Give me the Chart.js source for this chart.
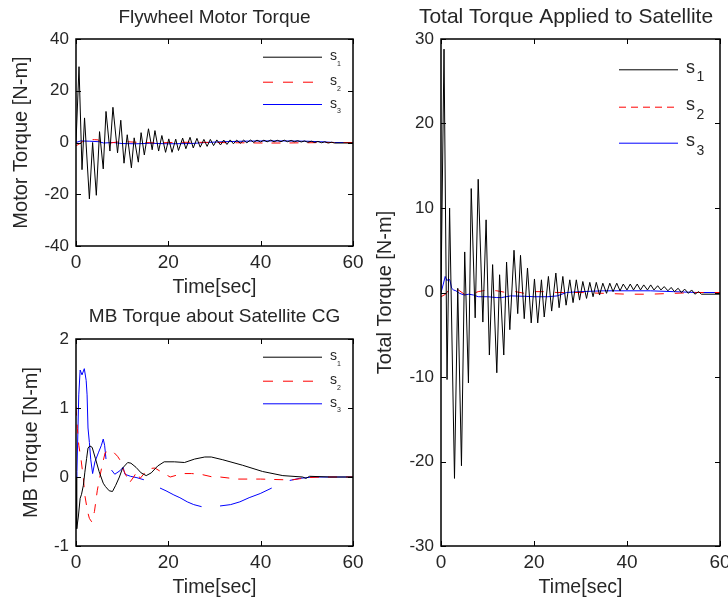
<!DOCTYPE html>
<html><head><meta charset="utf-8">
<script src="https://cdn.jsdelivr.net/npm/chart.js@4.4.1/dist/chart.umd.min.js"></script>
<style>
html,body{margin:0;padding:0;background:#fff;overflow:hidden;}
#wrap{position:relative;width:728px;height:600px;overflow:hidden;background:#fff;}
canvas{position:absolute;}
</style></head><body>
<div id="wrap">
<canvas id="c1" width="380" height="300" style="left:0;top:0"></canvas>
<canvas id="c2" width="380" height="300" style="left:0;top:300px"></canvas>
<canvas id="c3" width="400" height="600" style="left:364px;top:0"></canvas>
</div>
<script>
// ---------- DATA ----------
const seriesLabels = ['s1', 's2', 's3'];
const xTicks = [0, 20, 40, 60];

// black (s1) time grid shared by motor & total torque
const s1Time = [0,0.65,1.3,1.85,2.9,3.6,4.4,5.1,5.9,6.5,7.35,8.0,9.0,9.7,10.4,11.1,12.0,12.6,13.5,14.1,
  14.8,15.7,16.5,17.1,17.9,18.6,19.4,20.1,20.8,21.6,22.2,23.1,23.8,24.7,25.4,26.2,26.9,27.7,28.4,29.1,
  29.8,30.5,31.3,32.0,32.7,33.4,34.1,34.8,35.6,36.3,37.0,37.8,38.5,39.2,40.0,40.7,41.4,42.2,42.9,43.6,
  44.4,45.1,45.8,46.6,47.3,48.0,48.8,49.5,50.2,51.0,51.7,52.4,53.2,53.9,54.6,55.4,56.0,60];

// Flywheel Motor Torque
const motorS1 = [0,29.3,-10.5,9.5,-21.8,0.0,-20.4,4.2,-10.2,12.0,
  -3.3,13.6,-4.0,8.6,-8.0,3.0,-9.8,1.8,-7.6,3.8,
  -4.8,5.3,-2.8,4.6,-3.3,2.7,-3.8,1.4,-3.8,1.3,
  -3.1,1.7,-2.4,2.0,-2.1,1.6,-1.8,1.2,-1.5,1.2,
  -1.2,1.0,-0.95,0.95,-0.75,1.0,-0.5,0.9,-0.3,0.9,
  -0.1,0.95,0.05,0.9,0.2,0.9,0.25,0.95,0.25,0.85,
  0.3,0.9,0.3,0.8,0.3,0.7,0.2,0.6,0.1,0.5,
  0.0,0.4,-0.1,0.3,-0.2,0.1,-0.2,-0.2];
const motorS2Time = [0,0.5,1.5,2.5,3.0,4.0,4.8,5.5,7,9,11,13,15,18,20,25,30,35,40,45,50,55,60];
const motorS2 = [-1.2,-0.8,0.4,0.9,1.1,1.1,1.0,0.0,-0.3,0.2,0.3,0.1,0.0,-0.2,0.0,0.1,0.0,-0.1,-0.2,-0.2,-0.1,0.0,0.0];
const motorS3Time = [0,1,3,5,6,8,10,13,16,20,25,28,32,36,40,45,50,53,56,60];
const motorS3 = [0,0.6,0.5,0.3,-0.2,0.0,-0.4,-0.5,-0.3,-0.5,-0.4,0.0,0.3,0.5,0.6,0.6,0.5,0.3,0.0,0.0];

// MB Torque about Satellite CG
const mbS1Time = [0,0.15,0.5,0.9,1.2,1.6,1.9,2.3,2.6,3.0,3.5,4.2,5.0,5.9,6.4,7.2,7.9,8.6,9.4,10.1,
  11.2,11.9,13.0,14.1,15.2,16.3,17.7,19.1,21.3,23.5,25.7,27.9,29.3,31.8,36.1,40.4,44.8,49.1,49.8,50.6,55,60];
const mbS1 = [0,-0.75,-0.58,-0.31,-0.25,-0.12,0.06,0.27,0.42,0.45,0.43,0.27,0.08,-0.09,-0.14,-0.2,-0.21,-0.12,0.0,0.13,
  0.21,0.2,0.14,0.06,0.02,0.06,0.16,0.22,0.22,0.21,0.26,0.29,0.29,0.25,0.17,0.08,0.02,0.0,-0.02,0.01,0,0];
const mbS2Time = [0,0.3,0.6,1.1,1.6,1.9,2.5,2.9,3.4,4.0,4.6,5.1,5.6,6.3,7.3,8.0,9.0,9.5,10.3,11.0,
  11.5,12.5,13.2,13.9,15.6,17.1,18.8,20.4,22,23.5,25,27,29.6,31.2,35,40,45,47,50,53,60];
const mbS2 = [1.02,0.7,0.46,0.25,-0.02,-0.26,-0.5,-0.6,-0.65,-0.5,-0.2,-0.02,0.15,0.35,0.39,0.37,0.3,0.25,0.1,0.0,
  -0.09,0.0,0.08,-0.02,0.12,0.13,0.06,0.0,0.03,0.05,0.05,0.04,0.0,0.0,-0.03,-0.03,-0.04,-0.04,-0.01,0,0];
const mbS3Time = [0,0.2,0.6,0.9,1.3,1.8,2.2,2.4,2.6,2.9,3.2,3.6,4.1,4.9,5.5,5.9,6.2,6.5,7.0,7.7,
  8.4,9.5,10.2,10.6,11.8,13.2,14.7,16.5,18.2,19.5,21.2,22.5,24.1,25.5,27.2,29,31.2,33.5,35.5,37.5,
  39.9,42.4,44,46.3,48.4,51.3,55,60];
const mbS3 = [0,0.08,1.19,1.55,1.48,1.57,1.4,1.19,0.71,0.5,0.25,0.05,0.22,0.36,0.46,0.55,0.46,0.26,null,0.1,
  0.04,0.09,0.14,0.04,0.01,-0.01,-0.04,null,-0.16,-0.2,-0.26,-0.3,-0.36,-0.4,-0.43,null,-0.42,-0.4,-0.36,-0.3,
  -0.24,-0.16,null,-0.05,-0.02,0.0,0.0,0.0];

// Total Torque Applied to Satellite
const totalS1 = [0,28.8,-10.3,10.0,-22.0,0.5,-20.5,4.8,-10.7,12.3,
  -3.0,13.4,-3.5,8.6,-7.4,3.3,-9.5,2.1,-7.4,3.6,
  -4.4,5.0,-2.5,4.4,-3.1,2.9,-3.6,1.6,-3.6,1.5,
  -2.9,1.9,-2.2,2.3,-1.8,1.9,-1.5,1.5,-1.2,1.5,
  -0.9,1.3,-0.7,1.2,-0.5,1.2,-0.3,1.1,-0.1,1.1,
  0.1,1.1,0.2,1.0,0.3,1.0,0.3,1.0,0.3,0.9,
  0.3,0.9,0.3,0.8,0.3,0.7,0.2,0.6,0.1,0.5,
  0.0,0.4,-0.1,0.3,-0.2,0.1,-0.2,-0.2];
const totalS2Time = [0,1,1.5,2.5,3.5,5,6,8,10,12,14,16,18,20,22,25,30,35,40,45,50,55,60];
const totalS2 = [-0.5,-0.2,0.2,0.5,0.4,-0.2,-0.3,0.1,0.3,0.2,0.0,0.1,-0.1,0.1,0.1,0.0,0.0,-0.1,-0.2,-0.2,-0.1,0.0,0.0];
const totalS3Time = [0,0.5,0.9,1.3,1.6,1.9,2.3,2.7,3.2,4,5,6,7,8,10,12,13,15,18,20,23,25,27,30,35,40,45,50,55,60];
const totalS3 = [0,1.0,1.9,1.4,1.6,1.5,0.5,0.3,0.2,-0.1,-0.3,-0.2,-0.3,-0.5,-0.5,-0.6,-0.6,-0.4,-0.45,-0.5,-0.5,-0.4,0.0,0.1,0.2,0.2,0.2,0.1,0.0,0.0];

// ---------- RENDER ----------
const FONT = '"Liberation Sans", Arial, Helvetica, sans-serif';
const TXT = '#262626';
Chart.defaults.font.family = FONT;
Chart.defaults.color = TXT;

const pts = (t, v) => t.map((x, i) => ({x, y: v[i]}));

const framePlugin = {
  id: 'frame',
  afterDatasetsDraw(chart, args, o) {
    const ctx = chart.ctx, a = chart.chartArea, xs = chart.scales.x, ys = chart.scales.y;
    ctx.save();
    ctx.strokeStyle = '#000';
    ctx.lineWidth = 1;
    ctx.beginPath();
    xs.ticks.forEach(t => { const p = Math.round(xs.getPixelForValue(t.value)) + 0.5;
      ctx.moveTo(p, a.bottom); ctx.lineTo(p, a.bottom - o.tick); ctx.moveTo(p, a.top); ctx.lineTo(p, a.top + o.tick); });
    ys.ticks.forEach(t => { const p = Math.round(ys.getPixelForValue(t.value)) + 0.5;
      ctx.moveTo(a.left, p); ctx.lineTo(a.left + o.tick, p); ctx.moveTo(a.right, p); ctx.lineTo(a.right - o.tick, p); });
    ctx.stroke();
    ctx.lineWidth = 1.5;
    ctx.strokeRect(a.left, a.top, a.right - a.left, a.bottom - a.top);
    ctx.fillStyle = TXT;
    ctx.font = o.titleSize + 'px ' + FONT;
    ctx.textAlign = 'center'; ctx.textBaseline = 'alphabetic';
    const cx = o.titleCx != null ? o.titleCx : (a.left + a.right) / 2;
    ctx.fillText(o.title, cx, o.titleY);
    const L = o.legend;
    chart.data.datasets.forEach((ds, i) => {
      const y = a.top + L.rows[i];
      ctx.strokeStyle = ds.borderColor; ctx.lineWidth = 1;
      ctx.setLineDash(ds.legendDash || []);
      ctx.beginPath(); ctx.moveTo(a.right - L.x0, y + 0.5); ctx.lineTo(a.right - L.x1, y + 0.5); ctx.stroke();
      ctx.setLineDash([]);
      ctx.fillStyle = TXT; ctx.textAlign = 'left';
      ctx.font = L.size + 'px ' + FONT;
      const tx = a.right - L.tx;
      const base = ds.label.slice(0, 1), sub = ds.label.slice(1);
      ctx.fillText(base, tx, y + L.sBase);
      const w = ctx.measureText(base).width;
      ctx.font = L.subSize + 'px ' + FONT;
      ctx.fillText(sub, tx + w + L.subGap, y + L.subBase);
    });
    ctx.restore();
  }
};

function makeChart(id, cfg) {
  const colors = ['#000000', '#ff0000', '#0000ff'];
  const datasets = cfg.series.map((s, i) => ({
    label: seriesLabels[i],
    data: pts(s[0], s[1]),
    borderColor: colors[i],
    borderWidth: 1,
    borderDash: i === 1 ? cfg.dash : [],
    legendDash: i === 1 ? cfg.legend.dash : [],
    pointRadius: 0,
    tension: 0,
    fill: false,
    spanGaps: false
  }));
  return new Chart(document.getElementById(id), {
    type: 'line',
    data: {datasets},
    plugins: [framePlugin],
    options: {
      responsive: false, animation: false, devicePixelRatio: 1,
      layout: {padding: {left: 0, top: cfg.top, right: cfg.right, bottom: 0}},
      plugins: {
        legend: {display: false}, tooltip: {enabled: false},
        frame: {title: cfg.title, titleY: cfg.titleY, titleSize: cfg.titleSize || 19, titleCx: cfg.titleCx, tick: 5, legend: cfg.legend}
      },
      scales: {
        x: {
          type: 'linear', min: 0, max: 60,
          afterBuildTicks: s => { s.ticks = xTicks.map(v => ({value: v})); },
          ticks: {font: {size: 19}, color: TXT, padding: 5, maxRotation: 0, autoSkip: false},
          grid: {display: false, drawTicks: false}, border: {display: false},
          title: {display: true, text: 'Time[sec]', font: {size: 19.5}, color: TXT, padding: {top: 0, bottom: 1}},
          afterFit: s => { s.height = 54; }
        },
        y: {
          type: 'linear', min: cfg.yMin, max: cfg.yMax,
          afterBuildTicks: s => { s.ticks = cfg.yTicks.map(v => ({value: v})); },
          ticks: {font: {size: 17}, color: TXT, padding: 7},
          grid: {display: false, drawTicks: false}, border: {display: false},
          title: {display: true, text: cfg.yTitle, font: {size: 20}, color: TXT, padding: {top: cfg.yTitlePad, bottom: 0}},
          afterFit: s => { s.width = cfg.yWidth; }
        }
      }
    }
  });
}

makeChart('c1', {
  title: 'Flywheel Motor Torque', titleY: 23, top: 39, right: 27, yWidth: 76,
  yMin: -40, yMax: 40, yTicks: [-40, -20, 0, 20, 40], yTitle: 'Motor Torque [N-m]', yTitlePad: 9.5,
  dash: [9, 9],
  series: [[s1Time, motorS1], [motorS2Time, motorS2], [motorS3Time, motorS3]],
  legend: {rows: [17.7, 42.7, 65], x0: 90, x1: 31, tx: 23, size: 14, subSize: 7, sBase: 3.7, subBase: 9, subGap: 0, dash: [10, 10]}
});
makeChart('c2', {
  title: 'MB Torque about Satellite CG', titleY: 22, top: 39, right: 27, yWidth: 76,
  yMin: -1, yMax: 2, yTicks: [-1, 0, 1, 2], yTitle: 'MB Torque [N-m]', yTitlePad: 19.5,
  dash: [9, 9],
  series: [[mbS1Time, mbS1], [mbS2Time, mbS2], [mbS3Time, mbS3]],
  legend: {rows: [17.7, 41.7, 64.3], x0: 90, x1: 31, tx: 23, size: 14, subSize: 7, sBase: 3.7, subBase: 9, subGap: 0, dash: [10, 10]}
});
makeChart('c3', {
  title: 'Total Torque Applied to Satellite', titleY: 23, titleSize: 21, titleCx: 202, top: 39, right: 44, yWidth: 77,
  yMin: -30, yMax: 30, yTicks: [-30, -20, -10, 0, 10, 20, 30], yTitle: 'Total Torque [N-m]', yTitlePad: 9.5,
  dash: [9, 11],
  series: [[s1Time, totalS1], [totalS2Time, totalS2], [totalS3Time, totalS3]],
  legend: {rows: [30.3, 67.7, 103.7], x0: 101, x1: 42, tx: 34, size: 18, subSize: 14, sBase: 3.5, subBase: 12, subGap: 1.5, dash: [7, 5]}
});
</script>
</body></html>
